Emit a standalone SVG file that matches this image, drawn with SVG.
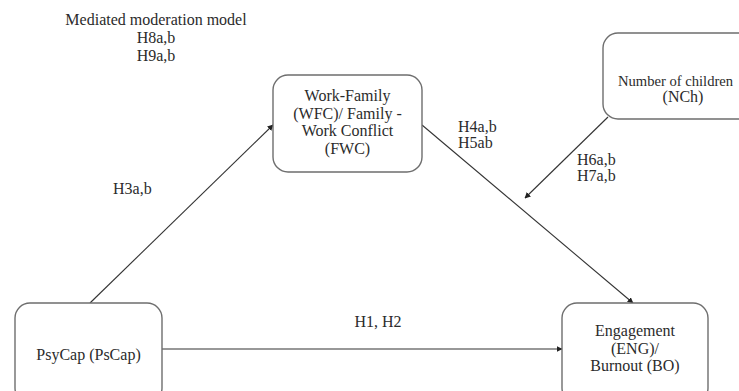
<svg xmlns="http://www.w3.org/2000/svg" width="739" height="391" viewBox="0 0 739 391">
<style>
  .box { fill: #ffffff; stroke: #6e6e6e; stroke-width: 1.4; }
  .t { font-family: "Liberation Serif", "Times New Roman", serif; font-size: 16px; fill: #2b2b2b; }
  .c { text-anchor: middle; }
  .edge { stroke: #333333; stroke-width: 1.1; fill: none; marker-end: url(#arr); }
</style>
<defs>
  <marker id="arr" viewBox="0 0 10 10" refX="9" refY="5" markerWidth="6" markerHeight="6" markerUnits="userSpaceOnUse" orient="auto">
    <path d="M0,0 L10,5 L0,10 z" fill="#222222"/>
  </marker>
</defs>
<rect width="739" height="391" fill="#ffffff"/>

<g id="title">
  <text class="t c" x="156" y="25">Mediated moderation model</text>
  <text class="t c" x="156" y="43">H8a,b</text>
  <text class="t c" x="156" y="61">H9a,b</text>
</g>

<g id="connectors">
  <line class="edge" x1="90" y1="303" x2="273" y2="125"/>
  <line class="edge" x1="422" y1="125" x2="633" y2="303"/>
  <line class="edge" x1="608" y1="117" x2="525" y2="198"/>
  <line class="edge" x1="162" y1="349" x2="562" y2="349"/>
  <text class="t" x="113" y="194">H3a,b</text>
  <text class="t" x="458" y="132">H4a,b</text>
  <text class="t" x="458" y="148">H5ab</text>
  <text class="t" x="577" y="165">H6a,b</text>
  <text class="t" x="577" y="181">H7a,b</text>
  <text class="t c" x="378" y="327">H1, H2</text>
</g>

<g id="wfc">
  <rect class="box" x="273" y="75" width="149" height="97" rx="15"/>
  <text class="t c" x="347.5" y="101">Work-Family</text>
  <text class="t c" x="347.5" y="119">(WFC)/ Family -</text>
  <text class="t c" x="347.5" y="136">Work Conflict</text>
  <text class="t c" x="347.5" y="154">(FWC)</text>
</g>

<g id="nch">
  <rect class="box" x="603" y="33" width="160" height="86" rx="15"/>
  <text class="t" x="618" y="86" style="font-size:14.6px">Number of children</text>
  <text class="t c" x="683" y="102">(NCh)</text>
</g>

<g id="psycap">
  <rect class="box" x="15" y="303" width="147" height="100" rx="15"/>
  <text class="t c" x="88.5" y="360">PsyCap (PsCap)</text>
</g>

<g id="eng">
  <rect class="box" x="562" y="303" width="146" height="100" rx="15"/>
  <text class="t c" x="635" y="336">Engagement</text>
  <text class="t c" x="635" y="354">(ENG)/</text>
  <text class="t c" x="635" y="371">Burnout (BO)</text>
</g>
</svg>
